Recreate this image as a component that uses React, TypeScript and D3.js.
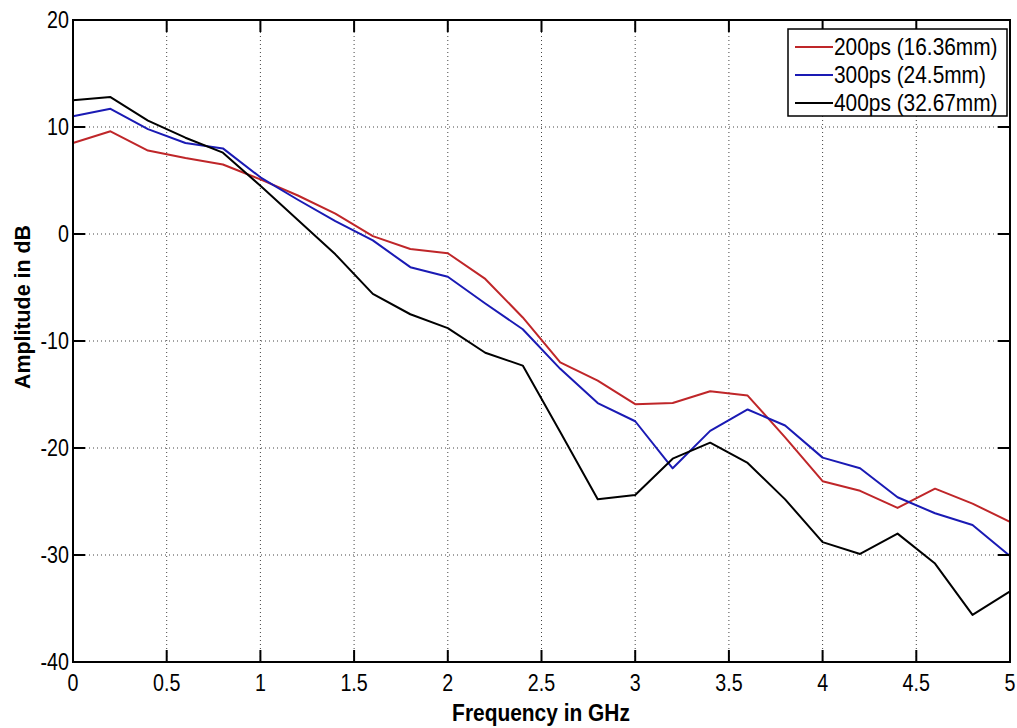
import { useEffect, useRef } from "react";
import * as d3 from "d3";

// frequencies in GHz (sampled every 0.2 GHz)
const freqs = d3.range(0, 26).map((i) => +(i * 0.2).toFixed(1));

const red200 = [8.5, 9.6, 7.8, 7.1, 6.5, 5.1, 3.6, 1.9, -0.2, -1.4, -1.8, -4.2, -7.8, -12.0, -13.7, -15.9, -15.8, -14.7, -15.1, -19.0, -23.1, -24.0, -25.6, -23.8, -25.2, -26.9];
const blue300 = [11.0, 11.7, 9.8, 8.5, 8.0, 5.3, 3.2, 1.2, -0.6, -3.1, -4.0, -6.5, -8.9, -12.6, -15.8, -17.5, -21.9, -18.4, -16.4, -17.9, -20.9, -21.9, -24.6, -26.1, -27.2, -30.1];
const black400 = [12.5, 12.8, 10.6, 9.0, 7.6, 4.5, 1.3, -1.9, -5.6, -7.5, -8.8, -11.1, -12.3, -18.5, -24.8, -24.4, -21.0, -19.5, -21.4, -24.8, -28.8, -29.9, -28.0, -30.8, -35.6, -33.4];

const seriesNames = ["200ps (16.36mm)", "300ps (24.5mm)", "400ps (32.67mm)"];
const seriesColors = ["#bf2629", "#1a1ab4", "#000000"];

const xTicks = [0, 0.5, 1, 1.5, 2, 2.5, 3, 3.5, 4, 4.5, 5];
const yTicks = [20, 10, 0, -10, -20, -30, -40];

export default function App() {
  const ref = useRef<SVGSVGElement>(null);

  useEffect(() => {
    const svg = d3.select(ref.current);
    svg.selectAll("*").remove();

    const left = 73, right = 1010, top = 20, bottom = 662;
    const font = "'Liberation Sans', Arial, sans-serif";

    const x = d3.scaleLinear().domain([0, 5]).range([left, right]);
    const y = d3.scaleLinear().domain([-40, 20]).range([bottom, top]);

    // narrow-looking text (squeezed horizontally)
    const narrowText = (sel: any, tx: number, ty: number, size: number, sx: number, anchor: string, str: string, bold = false, rot = 0) =>
      sel.append("text")
        .attr("transform", `translate(${tx},${ty})${rot ? ` rotate(${rot})` : ""} scale(${sx},1)`)
        .attr("text-anchor", anchor)
        .attr("font-family", font)
        .attr("font-size", size)
        .attr("font-weight", bold ? "bold" : "normal")
        .text(str);

    // grid
    const grid = svg.append("g").attr("stroke", "#444").attr("stroke-width", 1).attr("stroke-dasharray", "1,3");
    xTicks.slice(1, -1).forEach((t) => {
      grid.append("line").attr("x1", x(t)).attr("x2", x(t)).attr("y1", top).attr("y2", bottom);
    });
    yTicks.slice(1, -1).forEach((t) => {
      grid.append("line").attr("x1", left).attr("x2", right).attr("y1", y(t)).attr("y2", y(t));
    });

    // lines
    const allSeries = [red200, blue300, black400];
    const line = d3.line<number>()
      .x((d, i) => x(freqs[i]))
      .y((d) => y(d));
    allSeries.forEach((s, k) => {
      svg.append("path")
        .datum(s)
        .attr("fill", "none")
        .attr("stroke", seriesColors[k])
        .attr("stroke-width", 2)
        .attr("stroke-linejoin", "round")
        .attr("d", line);
    });

    // inward ticks on all four sides
    const tickLen = 12;
    const ticks = svg.append("g").attr("stroke", "#000").attr("stroke-width", 2);
    xTicks.forEach((t) => {
      ticks.append("line").attr("x1", x(t)).attr("x2", x(t)).attr("y1", bottom).attr("y2", bottom - tickLen);
      ticks.append("line").attr("x1", x(t)).attr("x2", x(t)).attr("y1", top).attr("y2", top + tickLen);
    });
    yTicks.forEach((t) => {
      ticks.append("line").attr("x1", left).attr("x2", left + tickLen).attr("y1", y(t)).attr("y2", y(t));
      ticks.append("line").attr("x1", right).attr("x2", right - tickLen).attr("y1", y(t)).attr("y2", y(t));
    });

    // frame
    svg.append("rect")
      .attr("x", left).attr("y", top)
      .attr("width", right - left).attr("height", bottom - top)
      .attr("fill", "none").attr("stroke", "#000").attr("stroke-width", 2);

    // tick labels
    xTicks.forEach((t) => narrowText(svg, x(t), bottom + 29, 24, 0.82, "middle", String(t)));
    yTicks.forEach((t) => narrowText(svg, left - 4, y(t) + 8, 24, 0.82, "end", String(t)));

    // axis titles
    narrowText(svg, 541, 721, 23, 0.91, "middle", "Frequency in GHz", true);
    narrowText(svg, 30, 307, 23, 0.93, "middle", "Amplitude in dB", true, -90);

    // legend
    const lg = svg.append("g").attr("transform", "translate(788, 29)");
    lg.append("rect")
      .attr("width", 219).attr("height", 87)
      .attr("fill", "#fff").attr("stroke", "#000").attr("stroke-width", 1.5);
    seriesNames.forEach((name, i) => {
      const ly = 18 + i * 28;
      lg.append("line")
        .attr("x1", 7).attr("x2", 45).attr("y1", ly).attr("y2", ly)
        .attr("stroke", seriesColors[i]).attr("stroke-width", 2);
      narrowText(lg, 46, ly + 8, 24, 0.87, "start", name);
    });
  }, []);

  return (
    <svg ref={ref} width={1017} height={728} style={{ position: "absolute", left: 0, top: 0, background: "#fff" }} />
  );
}
